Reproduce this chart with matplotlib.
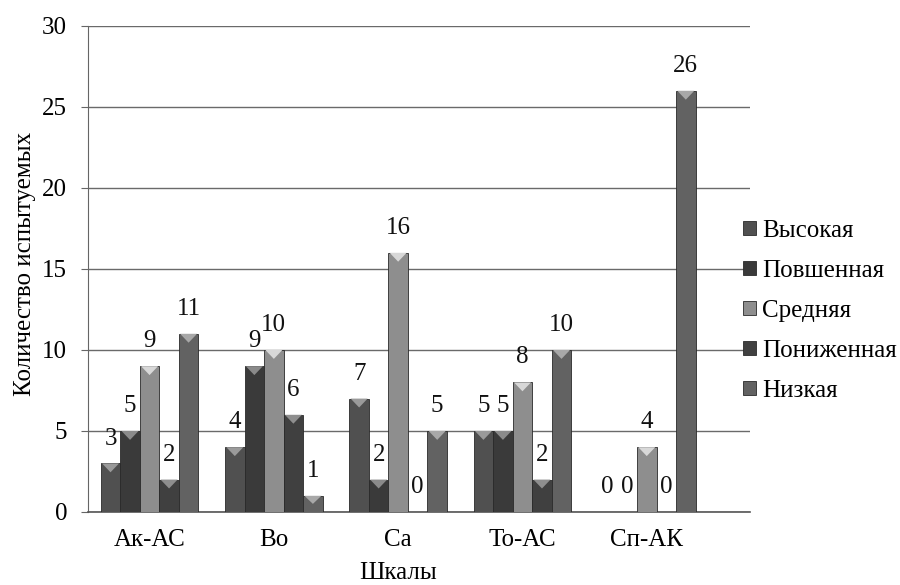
import matplotlib
matplotlib.use("Agg")
import matplotlib.pyplot as plt
import numpy as np

categories = ["Ак-АС", "Во", "Са", "То-АС", "Сп-АК"]
series_names = ["Высокая", "Повшенная", "Средняя", "Пониженная", "Низкая"]
vysokaya = [3, 4, 7, 5, 0]
povyshennaya = [5, 9, 2, 5, 0]
srednyaya = [9, 10, 16, 8, 4]
ponizhennaya = [2, 6, 0, 2, 0]
nizkaya = [11, 1, 5, 10, 26]
series = [vysokaya, povyshennaya, srednyaya, ponizhennaya, nizkaya]
colors = ["#505050", "#3a3a3a", "#8e8e8e", "#404040", "#626262"]
cap_colors = ["#9a9a9a", "#8a8a8a", "#d8d8d8", "#8e8e8e", "#a8a8a8"]

plt.rcParams['font.family'] = 'serif'
plt.rcParams['font.serif'] = ['Liberation Serif', 'Times New Roman', 'DejaVu Serif']
FS = 18

fig = plt.figure(figsize=(9, 5.85), dpi=100)
ax = fig.add_axes([0.0978, 0.1248, 0.7356, 0.8308])

x = np.arange(len(categories))
w = 0.157
for i, (vals, c, cc, name) in enumerate(zip(series, colors, cap_colors, series_names)):
    pos = x + (i - 2) * w
    ax.bar(pos, vals, width=w, color=c, edgecolor="#2a2a2a", linewidth=0.6,
           label=name, zorder=3)
    for p, v in zip(pos, vals):
        if v > 0:
            # light cap on top of the bar (3D cylinder look)
            d = min(0.55, v * 0.5)
            ax.fill([p - w / 2 + 0.01, p + w / 2 - 0.01, p],
                    [v, v, v - d], color=cc, zorder=4, linewidth=0)
        ax.annotate(str(v), (p, v), xytext=(0, 10), textcoords="offset points",
                    ha="center", va="bottom", fontsize=FS, color="#111111", zorder=5)

ax.set_xlim(-0.495, 4.831)
ax.set_ylim(0, 30)
ax.set_yticks(range(0, 31, 5))
ax.set_xticks(x)
ax.set_xticklabels(categories, fontsize=FS)
ax.tick_params(axis='y', labelsize=FS, length=5, color="#666666", pad=10)
ax.tick_params(axis='x', length=0, pad=12)
ax.yaxis.grid(True, color="#6a6a6a", linewidth=1.0, zorder=0)
ax.set_axisbelow(True)
for s in ["top", "right"]:
    ax.spines[s].set_visible(False)
ax.spines["left"].set_color("#666666")
ax.spines["bottom"].set_color("#555555")
ax.spines["bottom"].set_linewidth(1.2)
ax.set_ylabel("Количество испытуемых", fontsize=FS)
ax.yaxis.set_label_coords(-0.079, 0.51)
ax.set_xlabel("Шкалы", fontsize=FS)
ax.xaxis.set_label_coords(0.468, -0.102)

fig.legend(loc="center left", bbox_to_anchor=(743 / 900, 1 - 311 / 585), frameon=False,
           fontsize=FS, handlelength=0.5, handleheight=0.5, handletextpad=0.25,
           labelspacing=0.72, borderpad=0, borderaxespad=0)

fig.savefig("out.png", dpi=100)
